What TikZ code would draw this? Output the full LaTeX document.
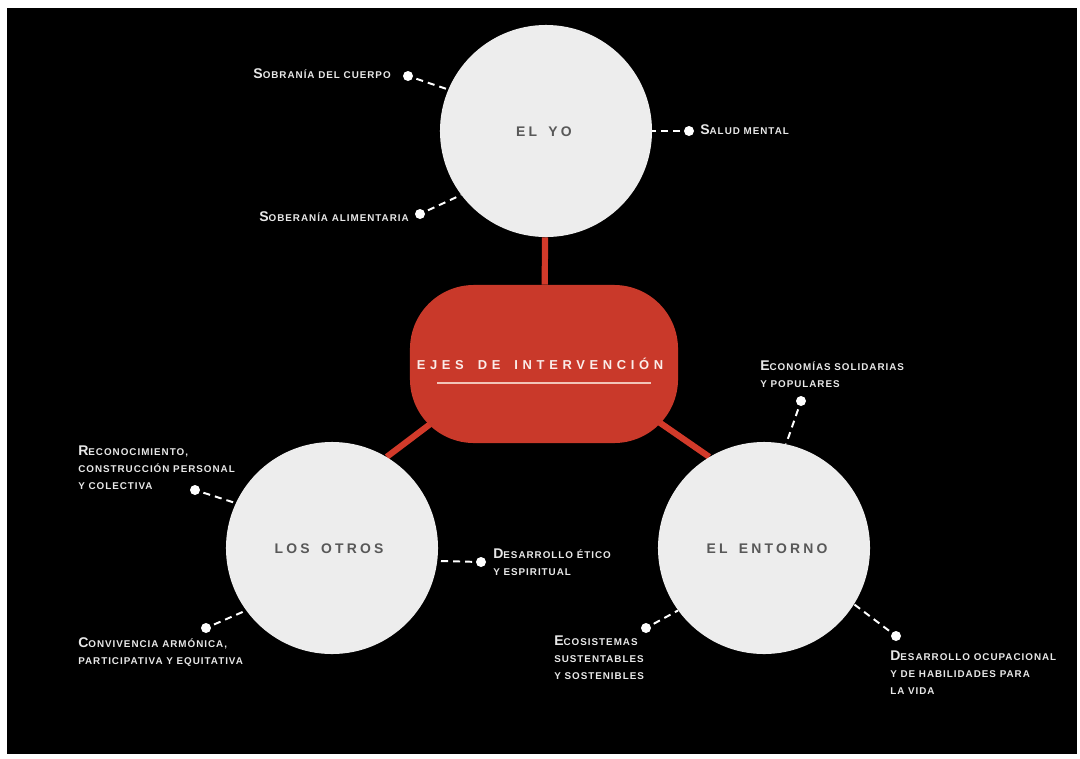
\documentclass[tikz,border=0pt]{standalone}
\usepackage{fontspec}
\setmainfont{Liberation Sans}
\newfontfamily\labfont{Liberation Sans}[LetterSpace=10]
\newfontfamily\circfont{Liberation Sans}[LetterSpace=23,WordSpace=1.6]
\newfontfamily\ejesfont{Liberation Sans}[LetterSpace=36,WordSpace=1.7]
\usetikzlibrary{calc}
\definecolor{circfill}{HTML}{EDEDED}
\definecolor{stadred}{HTML}{C9392A}
\definecolor{linered}{HTML}{D23A2A}
\definecolor{circtext}{HTML}{585858}
\definecolor{labtext}{HTML}{E8E8E8}
\definecolor{ulcol}{HTML}{F2C4B8}
\definecolor{ejestxtcol}{HTML}{FBEDEA}
\pgfdeclarelayer{bg}\pgfdeclarelayer{lines}
\pgfsetlayers{bg,lines,main}
\newcommand{\ini}[1]{{\fontsize{10}{12.1}\selectfont #1}}
\tikzset{
  bigcirc/.style={circle, fill=circfill, minimum size=5.3cm, inner sep=0pt},
  circtxt/.style={text=circtext, inner sep=0pt, font=\circfont\bfseries\fontsize{9.9}{12}\selectfont},
  stadium/.style={rectangle, rounded corners=1.6cm, fill=stadred,
    minimum width=6.7cm, minimum height=3.95cm, inner sep=0pt},
  ejestext/.style={text=ejestxtcol, inner sep=0pt, font=\ejesfont\bfseries\fontsize{9.2}{12}\selectfont},
  underl/.style={draw=ulcol, line width=1.4pt},
  redline/.style={draw=linered, line width=4.4pt},
  dot/.style={circle, fill=white, minimum size=0.25cm, inner sep=0pt},
  dashline/.style={draw=white, line width=1.4pt, dash pattern=on 5pt off 3.6pt, shorten <=2.5pt},
  lab/.style={text=labtext, inner sep=0pt, align=left,
    font=\labfont\bfseries\fontsize{7}{12.1}\selectfont}
}
\begin{document}
\begin{tikzpicture}[x=0.025cm,y=-0.025cm]
\begin{pgfonlayer}{bg}
\fill[white] (0,0) rectangle (1080,758);
\fill[black] (7,8) rectangle (1077,754);
\end{pgfonlayer}
\useasboundingbox (0,0) rectangle (1080,758);

\node[bigcirc] (yo) at (546,131) {};
\node[bigcirc] (otros) at (332,548) {};
\node[bigcirc] (entorno) at (764,548) {};
\node[circtxt] (yotxt) at (544,132) {EL YO};
\node[circtxt] (otrostxt) at (329,549) {LOS OTROS};
\node[circtxt] (entornotxt) at (767,549) {EL ENTORNO};
\node[stadium] (ejes) at (544,364) {};
\node[ejestext] (ejestxt) at (540,364) {EJES DE INTERVENCIÓN};
\draw[underl] ($(ejes.center)+(-107,19)$) -- ($(ejes.center)+(107,19)$);

\node[dot] (d1) at (408,76) {};
\node[dot] (d2) at (420,214) {};
\node[dot] (d3) at (689,131) {};
\node[dot] (d4) at (195,490) {};
\node[dot] (d5) at (481,562) {};
\node[dot] (d6) at (206,628) {};
\node[dot] (d7) at (801,401) {};
\node[dot] (d8) at (646,628) {};
\node[dot] (d9) at (896,636) {};

\begin{pgfonlayer}{lines}
\draw[redline] (yo) -- (ejes);
\draw[redline] (otros.59) -- ($(ejes.center)+(-70,27)$);
\draw[redline] (entorno.121) -- ($(ejes.center)+(70,27)$);
\draw[dashline] (d1) -- (yo.157);
\draw[dashline] (d2) -- (yo.217);
\draw[dashline] (d3) -- (yo.0);
\draw[dashline] (d4) -- (otros.155);
\draw[dashline] (d5) -- (otros.-7.5);
\draw[dashline] (d6) -- (otros.216);
\draw[dashline] (d7) -- (entorno.78.5);
\draw[dashline] (d8) -- (entorno.216);
\draw[dashline] (d9) -- (entorno.-32);
\end{pgfonlayer}

\node[lab, anchor=base east] (l1) at (391,78) {\ini{S}OBRANÍA DEL CUERPO};
\node[lab, anchor=base east] (l2) at (409,221) {\ini{S}OBERANÍA ALIMENTARIA};
\node[lab, anchor=base west] (l3) at (700,134) {\ini{S}ALUD MENTAL};
\node[lab, anchor=north west] (l4) at (78,445.5) {\ini{R}ECONOCIMIENTO,\\CONSTRUCCIÓN PERSONAL\\Y COLECTIVA};
\node[lab, anchor=north west] (l5) at (493,548.5) {\ini{D}ESARROLLO ÉTICO\\Y ESPIRITUAL};
\node[lab, anchor=north west] (l6) at (78,637.5) {\ini{C}ONVIVENCIA ARMÓNICA,\\PARTICIPATIVA Y EQUITATIVA};
\node[lab, anchor=north west] (l7) at (760,360.5) {\ini{E}CONOMÍAS SOLIDARIAS\\Y POPULARES};
\node[lab, anchor=north west] (l8) at (554,635.5) {\ini{E}COSISTEMAS\\SUSTENTABLES\\Y SOSTENIBLES};
\node[lab, anchor=north west] (l9) at (890,650.5) {\ini{D}ESARROLLO OCUPACIONAL\\Y DE HABILIDADES PARA\\LA VIDA};
\end{tikzpicture}
\end{document}
